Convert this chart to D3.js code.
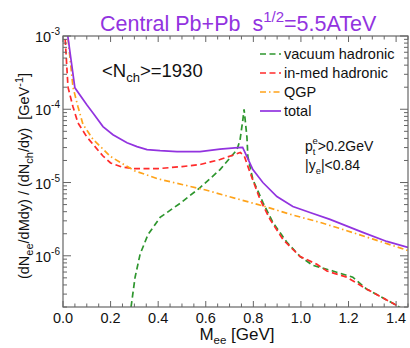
<!DOCTYPE html>
<html>
<head>
<meta charset="utf-8">
<script src="https://cdn.jsdelivr.net/npm/d3@7"></script>
<style>
  body { margin: 0; background: #fff; }
  svg { font-family: "Liberation Sans", Arial, Helvetica, sans-serif; }
  text { white-space: pre; }
</style>
</head>
<body>
<svg id="chart" width="410" height="348"></svg>
<script>
// mass points [GeV] and yields
var vacuumHadronic = [
    [0.286, 2.0e-7], [0.303, 5.1e-7], [0.324, 1.05e-6], [0.357, 1.94e-6], [0.408, 3.34e-6],
    [0.492, 5.2e-6], [0.576, 8.5e-6], [0.66, 1.5e-5], [0.731, 2.8e-5], [0.744, 3.8e-5],
    [0.756, 7.2e-5], [0.761, 1.0e-4], [0.766, 7.0e-5], [0.773, 4.2e-5], [0.777, 2.26e-5],
    [0.798, 1.1e-5], [0.84, 5.35e-6], [0.882, 2.86e-6], [0.941, 1.53e-6], [0.996, 9.8e-7],
    [1.05, 7.4e-7], [1.134, 6.2e-7], [1.218, 5.1e-7], [1.277, 3.5e-7], [1.408, 2.06e-7],
    [1.45, 1.6e-7]
];
var inMedHadronic = [
    [0.0, 3.0e-3], [0.021, 2.0e-4], [0.042, 1.08e-4], [0.063, 6.5e-5], [0.1, 4.2e-5],
    [0.168, 2.3e-5], [0.2, 1.85e-5], [0.25, 1.62e-5], [0.3, 1.55e-5], [0.4, 1.55e-5],
    [0.5, 1.65e-5], [0.576, 1.76e-5], [0.66, 2.06e-5], [0.72, 2.4e-5], [0.745, 2.57e-5],
    [0.762, 2.3e-5], [0.786, 1.37e-5], [0.828, 5.9e-6], [0.87, 3.14e-6], [0.924, 1.68e-6],
    [0.996, 9.8e-7], [1.067, 7.65e-7], [1.109, 6.2e-7], [1.193, 5.1e-7], [1.277, 3.5e-7],
    [1.408, 2.06e-7], [1.45, 1.6e-7]
];
var qgp = [
    [0.0, 5.0e-3], [0.02, 1.0e-3], [0.042, 2.0e-4], [0.063, 1.08e-4], [0.084, 6.2e-5],
    [0.126, 3.9e-5], [0.2, 2.26e-5], [0.3, 1.45e-5], [0.4, 1.12e-5], [0.5, 9.4e-6],
    [0.6, 7.9e-6], [0.7, 6.4e-6], [0.84, 4.8e-6], [0.966, 3.6e-6], [1.08, 2.86e-6],
    [1.193, 2.2e-6], [1.3, 1.7e-6], [1.45, 1.18e-6]
];
var total = [
    [0.0, 3.0e-3], [0.05, 1.96e-4], [0.1, 1.15e-4], [0.126, 8.9e-5], [0.168, 5.8e-5],
    [0.21, 4.5e-5], [0.269, 3.5e-5], [0.311, 3.09e-5], [0.353, 2.81e-5], [0.408, 2.72e-5],
    [0.479, 2.64e-5], [0.576, 2.64e-5], [0.66, 2.85e-5], [0.735, 3.0e-5], [0.755, 3.02e-5],
    [0.773, 2.26e-5], [0.798, 1.5e-5], [0.84, 1.0e-5], [0.899, 6.45e-6], [0.966, 4.71e-6],
    [1.038, 3.9e-6], [1.122, 3.14e-6], [1.26, 2.09e-6], [1.361, 1.57e-6], [1.45, 1.3e-6]
];
var xTicks = [0.0, 0.2, 0.4, 0.6, 0.8, 1.0, 1.2, 1.4];
var yDecades = [-6, -5, -4, -3];
var seriesNames = ["vacuum hadronic", "in-med hadronic", "QGP", "total"];

var margin = {left: 63, right: 2, top: 36, bottom: 41},
    width = 410 - margin.left - margin.right,
    height = 348 - margin.top - margin.bottom;

var svg = d3.select("#chart");
var g = svg.append("g").attr("transform", "translate(" + margin.left + "," + margin.top + ")");

var x = d3.scaleLinear().domain([0, 1.45]).range([0, width]);
var y = d3.scaleLog().domain([2e-7, 1e-3]).range([height, 0]);

g.append("clipPath").attr("id", "clip")
    .append("rect").attr("width", width).attr("height", height);

var styles = [
    {data: vacuumHadronic, color: "#2e962e", dash: "6,3.5"},
    {data: inMedHadronic, color: "#ff2b2b", dash: "6,3.5"},
    {data: qgp, color: "#ffa31a", dash: "6,3,1.5,3"},
    {data: total, color: "#9233df", dash: null}
];

var line = d3.line()
    .x(function (d) { return x(d[0]); })
    .y(function (d) { return y(d[1]); });

var plot = g.append("g").attr("clip-path", "url(#clip)");
styles.forEach(function (s) {
    plot.append("path")
        .attr("d", line(s.data))
        .attr("fill", "none")
        .attr("stroke", s.color)
        .attr("stroke-width", 1.7)
        .attr("stroke-dasharray", s.dash);
});

// frame and inward ticks on all four sides
var axisColor = "#666";
g.append("rect").attr("width", width).attr("height", height)
    .attr("fill", "none").attr("stroke", axisColor).attr("stroke-width", 1.2);

var xMinor = d3.range(0, 1.451, 0.05);
xMinor.forEach(function (v) {
    var major = Math.abs(v / 0.2 - Math.round(v / 0.2)) < 1e-6;
    var len = major ? 6 : 3.5;
    g.append("line").attr("x1", x(v)).attr("x2", x(v)).attr("y1", height).attr("y2", height - len)
        .attr("stroke", axisColor);
    g.append("line").attr("x1", x(v)).attr("x2", x(v)).attr("y1", 0).attr("y2", len)
        .attr("stroke", axisColor);
});

for (var e = -7; e <= -3; e++) {
    for (var k = 1; k <= 9; k++) {
        var v = k * Math.pow(10, e);
        if (v < 2e-7 || v > 1e-3) continue;
        var len = k === 1 ? 8 : 4;
        g.append("line").attr("x1", 0).attr("x2", len).attr("y1", y(v)).attr("y2", y(v))
            .attr("stroke", axisColor);
        g.append("line").attr("x1", width).attr("x2", width - len).attr("y1", y(v)).attr("y2", y(v))
            .attr("stroke", axisColor);
    }
}

// tick labels
xTicks.forEach(function (v) {
    g.append("text").attr("x", x(v)).attr("y", height + 16)
        .attr("text-anchor", "middle").attr("font-size", 14.5).attr("fill", "#111")
        .text(d3.format(".1f")(v));
});
yDecades.forEach(function (p) {
    var t = g.append("text").attr("x", -3).attr("y", y(Math.pow(10, p)) + 6)
        .attr("text-anchor", "end").attr("font-size", 14.5).attr("fill", "#111");
    t.append("tspan").text("10");
    t.append("tspan").attr("dy", -7).attr("font-size", 10).text(String(p));
});

// axis titles
var xl = svg.append("text").attr("x", 237).attr("y", 340)
    .attr("text-anchor", "middle").attr("font-size", 17).attr("fill", "#111");
xl.append("tspan").text("M");
xl.append("tspan").attr("dy", 4).attr("font-size", 11.5).text("ee");
xl.append("tspan").attr("dy", -4).text(" [GeV]");

var yl = svg.append("text").attr("transform", "translate(29,176) rotate(-90)")
    .attr("text-anchor", "middle").attr("font-size", 14.5).attr("fill", "#111");
yl.append("tspan").text("(dN");
yl.append("tspan").attr("dy", 4).attr("font-size", 11).text("ee");
yl.append("tspan").attr("dy", -4).text("/dMdy) / (dN");
yl.append("tspan").attr("dy", 4).attr("font-size", 11).text("ch");
yl.append("tspan").attr("dy", -4).text("/dy)  [GeV");
yl.append("tspan").attr("dy", -6).attr("font-size", 11).text("-1");
yl.append("tspan").attr("dy", 6).text("]");

// title
var title = svg.append("text").attr("x", 100).attr("y", 31)
    .attr("font-size", 21.5).attr("fill", "#9233df");
title.append("tspan").text("Central Pb+Pb  s");
title.append("tspan").attr("dy", -9).attr("font-size", 15).text("1/2");
title.append("tspan").attr("dy", 9).text("=5.5ATeV");

// legend
var legend = svg.append("g");
styles.forEach(function (s, i) {
    var ly = 54 + i * 19;
    legend.append("line").attr("x1", 260).attr("x2", 281).attr("y1", ly).attr("y2", ly)
        .attr("stroke", s.color).attr("stroke-width", 1.7).attr("stroke-dasharray", s.dash);
    legend.append("text").attr("x", 284).attr("y", ly + 5)
        .attr("font-size", 14.5).attr("fill", "#111").text(seriesNames[i]);
});

// annotations
var nch = svg.append("text").attr("x", 102).attr("y", 77).attr("font-size", 18.5).attr("fill", "#111");
nch.append("tspan").text("<N");
nch.append("tspan").attr("dy", 5).attr("font-size", 13).text("ch");
nch.append("tspan").attr("dy", -5).text(">=1930");

var pt = svg.append("text").attr("x", 305).attr("y", 151).attr("font-size", 14).attr("fill", "#111");
pt.append("tspan").text("p");
pt.append("tspan").attr("dy", 4).attr("font-size", 9.5).text("t");
pt.append("tspan").attr("dx", -3).attr("dy", -11).attr("font-size", 9.5).text("e");
pt.append("tspan").attr("dy", 7).text(">0.2GeV");

var ye = svg.append("text").attr("x", 305).attr("y", 170).attr("font-size", 14).attr("fill", "#111");
ye.append("tspan").text("|y");
ye.append("tspan").attr("dy", 4).attr("font-size", 9.5).text("e");
ye.append("tspan").attr("dy", -4).text("|<0.84");
</script>
</body>
</html>
